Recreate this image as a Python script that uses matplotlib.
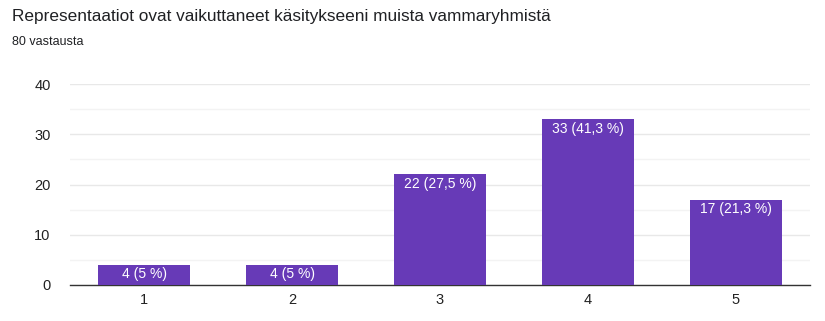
import matplotlib
matplotlib.use("Agg")
import matplotlib.pyplot as plt
import numpy as np

categories = ["1", "2", "3", "4", "5"]
values = [4, 4, 22, 33, 17]
labels = ["4 (5 %)", "4 (5 %)", "22 (27,5 %)", "33 (41,3 %)", "17 (21,3 %)"]
title = "Representaatiot ovat vaikuttaneet käsitykseeni muista vammaryhmistä"
subtitle = "80 vastausta"

plt.rcParams['font.family'] = ['Liberation Sans', 'DejaVu Sans']
fig = plt.figure(figsize=(8.25, 3.21), dpi=100)
ax = fig.add_axes([70/825, 1-285/321, 740/825, 201/321])

x = np.arange(len(categories))
bars = ax.bar(x, values, width=0.62, color="#673ab7", zorder=3)
for b, lab in zip(bars, labels):
    ax.text(b.get_x() + b.get_width()/2, b.get_height() - 0.5, lab,
            ha="center", va="top", color="white", fontsize=10, zorder=4)

ax.set_xlim(-0.5, 4.5)
ax.set_ylim(0, 40)
ax.set_yticks([0, 10, 20, 30, 40])
ax.set_yticks([5, 15, 25, 35], minor=True)
ax.set_xticks(x)
ax.set_xticklabels(categories)
ax.grid(axis="y", which="major", color="#e8e8e8", linewidth=1, zorder=0)
ax.grid(axis="y", which="minor", color="#f3f3f3", linewidth=1, zorder=0)
for s in ["top", "right", "left"]:
    ax.spines[s].set_visible(False)
ax.spines["bottom"].set_color("#333333")
ax.spines["bottom"].set_linewidth(1)
ax.tick_params(axis="both", which="both", length=0, labelsize=10.5, colors="#222222")
ax.tick_params(axis="y", pad=14)
ax.tick_params(axis="x", pad=6)

fig.text(12/825, 1-17/321, title, fontsize=12.4, color="#202124", va="center", ha="left")
fig.text(12/825, 1-42/321, subtitle, fontsize=9, color="#202124", va="center", ha="left")

fig.savefig("out.png", dpi=100)
